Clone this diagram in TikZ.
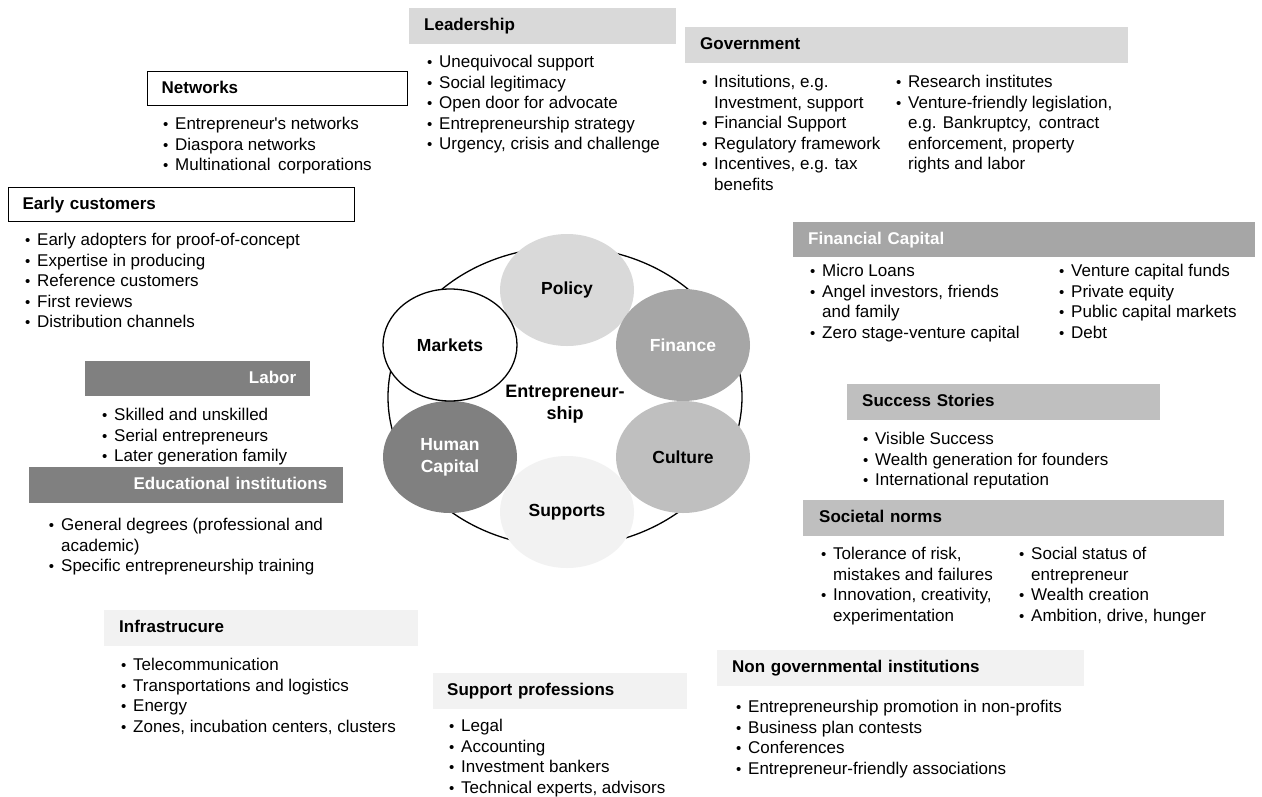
\documentclass[tikz,border=0pt]{standalone}
\usepackage{fontspec}
\setmainfont{Liberation Sans}
\usetikzlibrary{shapes.geometric}
\definecolor{gD}{HTML}{D9D9D9}
\definecolor{gA}{HTML}{A6A6A6}
\definecolor{gB}{HTML}{BFBFBF}
\definecolor{gE}{HTML}{808080}
\definecolor{gF}{HTML}{F2F2F2}
\newcommand{\bl}{\makebox[14pt][l]{\hspace{1.8pt}{\fontsize{15}{15}\selectfont •}}}
\newcommand{\cn}{\hspace*{14pt}}
\tikzset{
  hdr/.style={anchor=north west, inner xsep=15pt, inner ysep=0pt, align=left,
    font=\fontsize{17}{20.5}\selectfont\bfseries, text height=12.3pt, text depth=3.6pt},
  lst/.style={anchor=north west, inner sep=0pt, align=left,
    font=\fontsize{17}{20.5}\selectfont},
  ell/.style={ellipse, minimum width=134pt, minimum height=112pt, inner sep=0pt,
    align=center, font=\fontsize{17.5}{22}\selectfont\bfseries},
  ring/.style={ellipse, draw=black, line width=1.3pt, minimum width=354pt,
    minimum height=300pt, inner sep=0pt}
}
\begin{document}
\begin{tikzpicture}[x=1pt,y=-1pt]
\useasboundingbox[fill=white] (0,0) rectangle (1262,796);

% central diagram
\node[ring] (eco) at (565,397) {};
\node[ell, fill=gD] (policy) at (567,290) {Policy};
\node[ell, fill=gA, text=white] (finance) at (683,345) {Finance};
\node[ell, fill=gB] (culture) at (683,457) {Culture};
\node[ell, fill=gF] (supports) at (567,512) {Supports};
\node[ell, fill=gE, text=white] (human) at (450,457) {Human\\Capital};
\node[ell, fill=white, draw=black, line width=1.3pt] (markets) at (450,345) {Markets};
\node[align=center, inner sep=0pt, font=\fontsize{18}{22}\selectfont\bfseries] (ent) at (565,404) {Entrepreneur-\\ship};

% Leadership
\node[hdr, fill=gD, minimum width=267pt, minimum height=36pt, text width=237pt] (leadH) at (409,8) {Leadership};
\node[lst] (leadL) at (425,55) {\bl Unequivocal support\\\bl Social legitimacy\\\bl Open door for advocate\\\bl Entrepreneurship strategy\\\bl Urgency, crisis and challenge};

% Government
\node[hdr, fill=gD, minimum width=443pt, minimum height=36pt, text width=413pt] (govH) at (685,27) {Government};
\node[lst] (govL1) at (700,75) {\bl Insitutions, e.g.\\\cn Investment, support\\\bl Financial Support\\\bl Regulatory framework\\\bl Incentives, e.g. tax\\\cn benefits};
\node[lst] (govL2) at (894,75) {\bl Research institutes\\\bl Venture-friendly legislation,\\\cn e.g. Bankruptcy,\, contract\\\cn enforcement, property\\\cn rights and labor};

% Networks
\node[hdr, fill=white, draw=black, line width=1.3pt, inner xsep=14pt, minimum width=260pt, minimum height=34pt, text width=232pt] (netH) at (147,71) {Networks};
\node[lst] (netL) at (161,117) {\bl Entrepreneur\textquotesingle s networks\\\bl Diaspora networks\\\bl Multinational\, corporations};

% Early customers
\node[hdr, fill=white, draw=black, line width=1.3pt, inner xsep=14pt, minimum width=346pt, minimum height=34pt, text width=318pt] (earlyH) at (8,187) {Early customers};
\node[lst] (earlyL) at (23,233) {\bl Early adopters for proof-of-concept\\\bl Expertise in producing\\\bl Reference customers\\\bl First reviews\\\bl Distribution channels};

% Financial Capital
\node[hdr, fill=gA, text=white, minimum width=462pt, minimum height=35pt, text width=432pt] (finH) at (793,222) {Financial Capital};
\node[lst] (finL1) at (808,264) {\bl Micro Loans\\\bl Angel investors, friends\\\cn and family\\\bl Zero stage-venture capital};
\node[lst] (finL2) at (1057,264) {\bl Venture capital funds\\\bl Private equity\\\bl Public capital markets\\\bl Debt};

% Labor
\node[hdr, fill=gE, text=white, align=right, inner xsep=14pt, minimum width=225pt, minimum height=35pt, text width=197pt] (labH) at (85,361) {Labor};
\node[lst] (labL) at (100,408) {\bl Skilled and unskilled\\\bl Serial entrepreneurs\\\bl Later generation family};

% Educational institutions
\node[hdr, fill=gE, text=white, align=right, inner xsep=16pt, minimum width=314pt, minimum height=36pt, text width=282pt] (eduH) at (29,467) {Educational institutions};
\node[lst] (eduL) at (47,518) {\bl General degrees (professional and\\\cn academic)\\\bl Specific entrepreneurship training};

% Success Stories
\node[hdr, fill=gB, minimum width=313pt, minimum height=36pt, text width=283pt] (sucH) at (847,384) {Success Stories};
\node[lst] (sucL) at (861,432) {\bl Visible Success\\\bl Wealth generation for founders\\\bl International reputation};

% Societal norms
\node[hdr, fill=gB, inner xsep=16pt, minimum width=421pt, minimum height=36pt, text width=389pt] (socH) at (803,500) {Societal norms};
\node[lst] (socL1) at (819,547) {\bl Tolerance of risk,\\\cn mistakes and failures\\\bl Innovation, creativity,\\\cn experimentation};
\node[lst] (socL2) at (1017,547) {\bl Social status of\\\cn entrepreneur\\\bl Wealth creation\\\bl Ambition, drive, hunger};

% Infrastrucure
\node[hdr, fill=gF, minimum width=314pt, minimum height=36pt, text width=284pt] (infH) at (104,610) {Infrastrucure};
\node[lst] (infL) at (119,658) {\bl Telecommunication\\\bl Transportations and logistics\\\bl Energy\\\bl Zones, incubation centers, clusters};

% Support professions
\node[hdr, fill=gF, inner xsep=14pt, minimum width=254pt, minimum height=36pt, text width=226pt] (supH) at (433,673) {Support professions};
\node[lst] (supL) at (447,719) {\bl Legal\\\bl Accounting\\\bl Investment bankers\\\bl Technical experts, advisors};

% Non governmental institutions
\node[hdr, fill=gF, minimum width=367pt, minimum height=36pt, text width=337pt] (ngoH) at (717,650) {Non governmental institutions};
\node[lst] (ngoL) at (734,700) {\bl Entrepreneurship promotion in non-profits\\\bl Business plan contests\\\bl Conferences\\\bl Entrepreneur-friendly associations};
\end{tikzpicture}
\end{document}
